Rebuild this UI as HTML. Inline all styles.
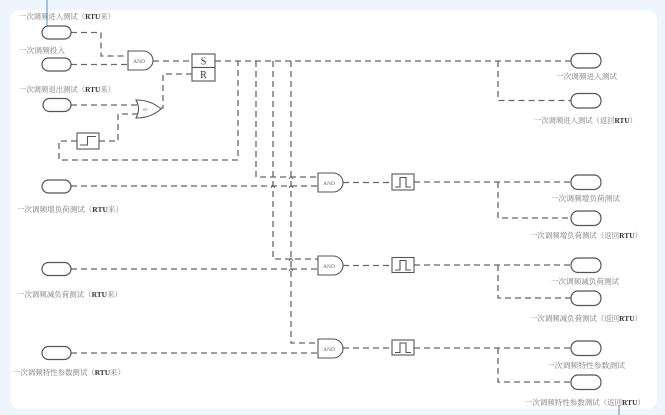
<!DOCTYPE html>
<html><head><meta charset="utf-8"><style>
html,body{margin:0;padding:0;background:#eef5fd;}
body{width:665px;height:415px;overflow:hidden;}
svg{display:block;}
text{font-family:"Liberation Serif","Noto Serif CJK SC",serif;font-size:7.5px;fill:#777;}
.b{font-weight:bold;fill:#333;}
.g{font-family:"Liberation Serif",serif;font-size:5.5px;fill:#666;}
</style></head><body>
<svg width="665" height="415" viewBox="0 0 665 415" xmlns="http://www.w3.org/2000/svg">
<rect x="0" y="0" width="665" height="415" fill="#eef5fd"/>
<rect x="10" y="10" width="647" height="399" rx="10" ry="10" fill="#ffffff"/>
<line x1="47" y1="0" x2="47" y2="26" stroke="#4a8fe0" stroke-width="1"/>
<line x1="619" y1="405" x2="619" y2="415" stroke="#4a8fe0" stroke-width="1"/>

<g fill="none" stroke="#666" stroke-width="1.3" stroke-dasharray="6,4">
<polyline points="71,32.5 101,32.5 101,56 128,56"/>
<polyline points="71,64.5 128,64.5"/>
<polyline points="153,61 192,61"/>
<polyline points="215,61 571,61"/>
<polyline points="498,61 498,100.5 571,100.5"/>
<polyline points="192,74 163,74 163,108 161,108"/>
<polyline points="71,105 138,105"/>
<polyline points="138,114 118,114 118,141 99,141"/>
<polyline points="77,141 59,141 59,160 238,160 238,61"/>
<polyline points="256,61 256,177 318,177"/>
<polyline points="273,61 273,259 318,259"/>
<polyline points="291,61 291,343 318,343"/>
<polyline points="71,186 318,186"/>
<polyline points="71,269 318,269"/>
<polyline points="71,353 318,353"/>
<polyline points="343,182.5 392,182.5"/>
<polyline points="414,182 571,182"/>
<polyline points="498,182 498,218 571,218"/>
<polyline points="343,265.5 392,265.5"/>
<polyline points="414,265 571,265"/>
<polyline points="498,265 498,298 571,298"/>
<polyline points="343,348 392,348"/>
<polyline points="414,348 571,348"/>
<polyline points="498,348 498,382 571,382"/>
</g>

<!-- small arrow ticks -->
<g fill="none" stroke="#666" stroke-width="1">
<polyline points="289,179 291,176 293,179"/>
<polyline points="289,188 291,185 293,188"/>
<polyline points="289,261 291,258 293,261"/>
<polyline points="289,271 291,268 293,271"/>
<polyline points="271,188 273,185 275,188"/>
</g>

<!-- left ovals -->
<g fill="#fff" stroke="#555" stroke-width="1.2">
<rect x="42" y="26" width="29" height="13" rx="6.5"/>
<rect x="42" y="58" width="29" height="13" rx="6.5"/>
<rect x="43" y="98.5" width="28" height="13" rx="6.5"/>
<rect x="42" y="180" width="29" height="13" rx="6.5"/>
<rect x="42" y="262.5" width="29" height="13" rx="6.5"/>
<rect x="42" y="346.5" width="29" height="13" rx="6.5"/>
<!-- right ovals -->
<rect x="571" y="53.5" width="30" height="14.5" rx="7"/>
<rect x="571" y="93.5" width="30" height="14.5" rx="7"/>
<rect x="571" y="175" width="30" height="14.5" rx="7"/>
<rect x="571" y="211" width="30" height="14.5" rx="7"/>
<rect x="571" y="258" width="30" height="14.5" rx="7"/>
<rect x="571" y="291" width="30" height="14.5" rx="7"/>
<rect x="571" y="341" width="30" height="14.5" rx="7"/>
<rect x="571" y="375" width="30" height="14.5" rx="7"/>
</g>

<!-- gates -->
<g fill="#fff" stroke="#555" stroke-width="1.1">
<path d="M128,51 H143 A10,9.5 0 0 1 143,70 H128 Z"/>
<path d="M318,173 H333 A10,9.5 0 0 1 333,192 H318 Z"/>
<path d="M318,256 H333 A10,9.5 0 0 1 333,275 H318 Z"/>
<path d="M318,339 H333 A10,9.5 0 0 1 333,358 H318 Z"/>
<path d="M136,100 Q151,100 161,109 Q151,118 136,118 Q141,109 136,100 Z"/>
<rect x="192" y="54" width="23" height="13.5"/>
<rect x="192" y="67.5" width="23" height="13.5"/>
<rect x="77" y="133" width="22" height="16"/>
<rect x="392" y="174" width="22" height="16"/>
<rect x="392" y="257.5" width="22" height="15"/>
<rect x="392" y="340" width="22" height="15"/>
</g>
<g fill="none" stroke="#555" stroke-width="1.1">
<path d="M80,145 H87.5 V136.5 H96"/>
<path d="M395,187 H400 V177.5 H406 V187 H411"/>
<path d="M395,270 H400 V260.5 H406 V270 H411"/>
<path d="M395,352.5 H400 V343 H406 V352.5 H411"/>
</g>
<text class="g" x="133" y="63">AND</text>
<text class="g" x="323" y="185">AND</text>
<text class="g" x="323" y="268">AND</text>
<text class="g" x="323" y="351">AND</text>
<text class="g" x="143" y="111" style="font-size:5px">or</text>
<text x="203.5" y="64.5" text-anchor="middle" style="font-size:10px;fill:#333">S</text>
<text x="203.5" y="78" text-anchor="middle" style="font-size:10px;fill:#333">R</text>

<!-- left labels -->
<text x="19" y="19" textLength="96" lengthAdjust="spacingAndGlyphs">一次调频进入测试（<tspan class="b">RTU</tspan>来）</text>
<text x="19" y="53" textLength="46" lengthAdjust="spacingAndGlyphs">一次调频投入</text>
<text x="19" y="92" textLength="96" lengthAdjust="spacingAndGlyphs">一次调频退出测试（<tspan class="b">RTU</tspan>来）</text>
<text x="17" y="212" textLength="106" lengthAdjust="spacingAndGlyphs">一次调频增负荷测试（<tspan class="b">RTU</tspan>来）</text>
<text x="17" y="297" textLength="105" lengthAdjust="spacingAndGlyphs">一次调频减负荷测试（<tspan class="b">RTU</tspan>来）</text>
<text x="13" y="375" textLength="112" lengthAdjust="spacingAndGlyphs">一次调频特性参数测试（<tspan class="b">RTU</tspan>来）</text>

<!-- right labels -->
<text x="556" y="79" textLength="61" lengthAdjust="spacingAndGlyphs">一次调频进入测试</text>
<text x="534" y="123" textLength="103" lengthAdjust="spacingAndGlyphs">一次调频进入测试（返回<tspan class="b">RTU</tspan>）</text>
<text x="551" y="201" textLength="69" lengthAdjust="spacingAndGlyphs">一次调频增负荷测试</text>
<text x="530" y="238" textLength="112" lengthAdjust="spacingAndGlyphs">一次调频增负荷测试（返回<tspan class="b">RTU</tspan>）</text>
<text x="551" y="284" textLength="68" lengthAdjust="spacingAndGlyphs">一次调频减负荷测试</text>
<text x="530" y="321" textLength="112" lengthAdjust="spacingAndGlyphs">一次调频减负荷测试（返回<tspan class="b">RTU</tspan>）</text>
<text x="547" y="368" textLength="78" lengthAdjust="spacingAndGlyphs">一次调频特性参数测试</text>
<text x="525" y="405" textLength="120" lengthAdjust="spacingAndGlyphs">一次调频特性参数测试（返回<tspan class="b">RTU</tspan>）</text>
</svg>
</body></html>
